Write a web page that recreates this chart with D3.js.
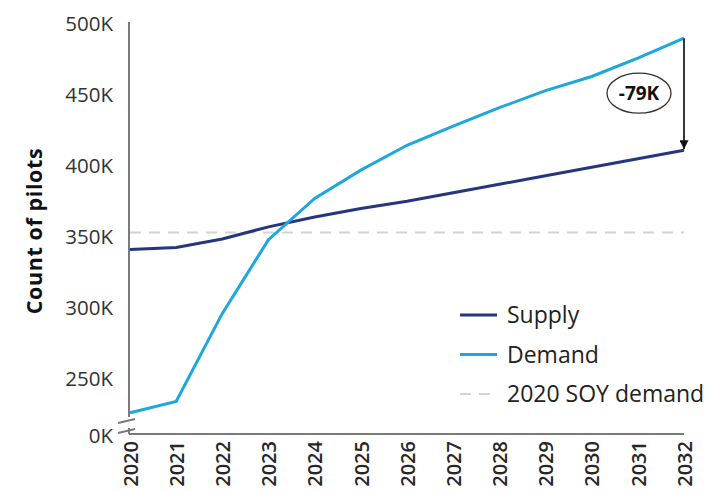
<!DOCTYPE html>
<html>
<head>
<meta charset="utf-8">
<script src="https://cdn.jsdelivr.net/npm/d3@7/dist/d3.min.js"></script>
<style>
  html, body { margin: 0; padding: 0; background: #fff; }
  svg { display: block; font-family: "Open Sans", sans-serif; }
</style>
</head>
<body>
<svg id="chart" width="713" height="490"></svg>
<script>
// Pilot supply vs. demand outlook (thousands of pilots)
const years = [2020, 2021, 2022, 2023, 2024, 2025, 2026, 2027, 2028, 2029, 2030, 2031, 2032];
const supply = [341, 342.5, 348.5, 357, 364, 370, 375, 381, 387, 393, 399, 405, 411];
const demand = [226, 234, 296, 348, 377, 397, 414.5, 428, 441, 453, 463, 476, 490];
const soyDemand2020 = 353;
const yTickValues = [250, 300, 350, 400, 450, 500];
const yBreakLabel = "0K";
const legendItems = [
  { key: "supply", label: "Supply" },
  { key: "demand", label: "Demand" },
  { key: "soy", label: "2020 SOY demand" }
];

const colors = { supply: "#25367f", demand: "#1ea6df", soy: "#d3d3d3", axis: "#7a7a7a", text: "#333333" };

const svg = d3.select("#chart");
const m = { left: 130, right: 684, top: 24, bottom: 434 };

// axis is broken just above its floor; the floor is labelled 0K
const x = d3.scalePoint().domain(years).range([m.left, m.right]);
const y = d3.scaleLinear().domain([211, 500]).range([m.bottom, m.top]);

// y tick labels
const yAxis = d3.axisLeft(y).tickValues(yTickValues).tickSize(0).tickPadding(16)
  .tickFormat(d => d + "K");
const gy = svg.append("g").attr("transform", `translate(${m.left - 1},0)`).call(yAxis);
gy.select(".domain").remove();
gy.selectAll("text").attr("fill", colors.text).style("font-size", "20.5px")
  .style("font-family", "'Open Sans', sans-serif").attr("dy", "0.34em");

svg.append("text").attr("x", m.left - 17).attr("y", m.bottom + 2)
  .attr("text-anchor", "end").attr("dy", "0.34em")
  .attr("fill", colors.text).style("font-size", "20.5px").text(yBreakLabel);

// axis lines with break marks
const ax = m.left - 1;
svg.append("line").attr("x1", ax).attr("x2", ax).attr("y1", y(500) - 2).attr("y2", m.bottom - 17)
  .attr("stroke", colors.axis).attr("stroke-width", 2);
svg.append("line").attr("x1", ax).attr("x2", ax).attr("y1", m.bottom - 6).attr("y2", m.bottom)
  .attr("stroke", colors.axis).attr("stroke-width", 2);
[0, 10].forEach(off => {
  svg.append("line").attr("x1", ax - 11).attr("x2", ax + 6)
    .attr("y1", m.bottom - 11 + off).attr("y2", m.bottom - 15 + off)
    .attr("stroke", colors.axis).attr("stroke-width", 1.8);
});
svg.append("line").attr("x1", ax).attr("x2", m.right).attr("y1", m.bottom).attr("y2", m.bottom)
  .attr("stroke", colors.axis).attr("stroke-width", 2);

// x tick labels, rotated
const xAxis = d3.axisBottom(x).tickSize(0).tickPadding(0);
const gx = svg.append("g").attr("transform", `translate(0,${m.bottom})`).call(xAxis);
gx.select(".domain").remove();
gx.selectAll("text")
  .attr("transform", "rotate(-90)")
  .attr("x", -7).attr("y", 0).attr("dy", "0.36em")
  .attr("text-anchor", "end")
  .attr("fill", "#262626").style("font-size", "20px").style("font-weight", "600")
  .style("font-family", "'Open Sans', sans-serif");

// y axis title
svg.append("text")
  .attr("transform", `translate(42,231) rotate(-90)`)
  .attr("text-anchor", "middle")
  .style("font-size", "21.5px").style("font-weight", "700").style("letter-spacing", "0.6px")
  .attr("fill", "#111").text("Count of pilots");

// 2020 start-of-year demand reference
svg.append("line")
  .attr("x1", x(years[0])).attr("x2", x(years[years.length - 1]))
  .attr("y1", y(soyDemand2020)).attr("y2", y(soyDemand2020))
  .attr("stroke", colors.soy).attr("stroke-width", 2).attr("stroke-dasharray", "11,8");

const line = d3.line().x((d, i) => x(years[i])).y(d => y(d));

svg.append("path").datum(supply).attr("d", line)
  .attr("fill", "none").attr("stroke", colors.supply).attr("stroke-width", 3);
svg.append("path").datum(demand).attr("d", line)
  .attr("fill", "none").attr("stroke", colors.demand).attr("stroke-width", 3);

// gap annotation at the final year
const last = years.length - 1;
const gap = Math.round(supply[last] - demand[last]);
svg.append("defs").append("marker")
  .attr("id", "arrow").attr("viewBox", "0 0 10 10").attr("refX", 10).attr("refY", 5)
  .attr("markerWidth", 5).attr("markerHeight", 5).attr("markerUnits", "strokeWidth")
  .attr("orient", "auto")
  .append("path").attr("d", "M0,0 L10,5 L0,10 Z").attr("fill", "#111");
svg.append("line")
  .attr("x1", x(years[last])).attr("x2", x(years[last]))
  .attr("y1", y(demand[last])).attr("y2", y(supply[last]) - 1)
  .attr("stroke", "#222").attr("stroke-width", 1.8).attr("marker-end", "url(#arrow)");
const labelY = y((demand[last] + supply[last]) / 2) - 1;
svg.append("ellipse").attr("cx", 639).attr("cy", labelY).attr("rx", 32).attr("ry", 20)
  .attr("fill", "#fff").attr("stroke", "#333").attr("stroke-width", 1.3);
svg.append("text").attr("x", 639).attr("y", labelY).attr("dy", "0.35em")
  .attr("text-anchor", "middle").style("font-size", "19px").style("font-weight", "700")
  .attr("fill", "#111").text(`${gap}K`);

// legend
const legend = svg.append("g").attr("transform", "translate(460,315)");
legendItems.forEach((item, i) => {
  const g = legend.append("g").attr("transform", `translate(0,${i * 39.5})`);
  g.append("line").attr("x1", 0).attr("x2", 37).attr("y1", 0).attr("y2", 0)
    .attr("stroke", colors[item.key])
    .attr("stroke-width", item.key === "soy" ? 2 : 3)
    .attr("stroke-dasharray", item.key === "soy" ? "11,8" : null);
  g.append("text").attr("x", 47).attr("y", 0).attr("dy", "0.35em")
    .style("font-size", "23px").attr("fill", "#222").text(item.label);
});
</script>
</body>
</html>
